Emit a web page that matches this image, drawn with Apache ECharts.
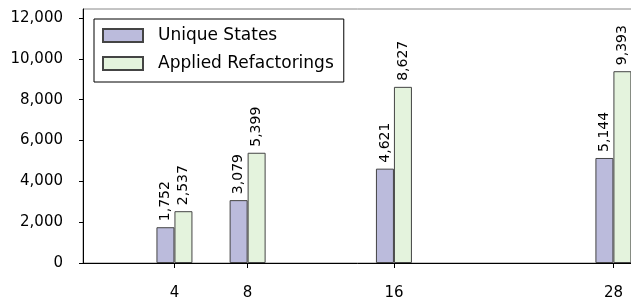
<!DOCTYPE html>
<html>
<head>
<meta charset="utf-8">
<script src="https://cdn.jsdelivr.net/npm/echarts@6/dist/echarts.min.js"></script>
<style>
html,body{margin:0;padding:0;background:#fff;}
#chart{width:631px;height:300px;}
</style>
</head>
<body>
<div id="chart"></div>
<script>
var threads = [4, 8, 16, 28];
var uniqueStates = [1752, 3079, 4621, 5144];
var appliedRefactorings = [2537, 5399, 8627, 9393];
var yTicks = [0, 2000, 4000, 6000, 8000, 10000, 12000];
var xTicks = [4, 8, 16, 28];
var seriesNames = ['Unique States', 'Applied Refactorings'];

var FONT = '"DejaVu Sans", sans-serif';
function fmt(v){ return Number(v).toLocaleString('en-US'); }

var chart = echarts.init(document.getElementById('chart'), null, {renderer:'canvas'});
chart.setOption({
  animation: false,
  backgroundColor: '#fff',
  grid: {left: 83, top: 9, width: 567, height: 254, containLabel: false, outerBoundsMode: 'none',
    show: true, borderColor: '#888', borderWidth: 1, backgroundColor: 'transparent'},
  legend: {
    orient: 'vertical', left: 94, top: 19,
    data: seriesNames,
    icon: 'rect', itemWidth: 40, itemHeight: 13, itemGap: 11,
    padding: [8, 10, 10, 8],
    borderColor: '#000', borderWidth: 1, backgroundColor: '#fff',
    textStyle: {fontFamily: FONT, fontSize: 17, color: '#000', padding: [0,0,0,10]}
  },
  xAxis: {
    type: 'value', min: -1, max: 30,
    splitLine: {show: false},
    axisLine: {onZero: false, lineStyle: {color: '#000', width: 1}},
    axisTick: {show: true, length: 5, lineStyle: {color: '#000'}, customValues: xTicks},
    axisLabel: {customValues: xTicks, margin: 23, fontFamily: FONT, fontSize: 15, color: '#000'}
  },
  yAxis: {
    type: 'value', min: 0, max: 12440,
    splitLine: {show: false},
    axisLine: {show: true, onZero: false, lineStyle: {color: '#000', width: 1}},
    axisTick: {show: true, length: 4, lineStyle: {color: '#000'}, customValues: yTicks},
    axisLabel: {customValues: yTicks, margin: 20, fontFamily: FONT, fontSize: 15, color: '#000', formatter: fmt}
  },
  series: [
    {
      name: seriesNames[0], type: 'bar', barWidth: 18, barGap: 0,
      data: threads.map(function(t,i){ return [t, uniqueStates[i]]; }),
      itemStyle: {color: '#bbbbdc', borderColor: '#444', borderWidth: 1},
      label: {show: true, position: 'top', rotate: 90, align: 'left', verticalAlign: 'middle', distance: 6,
        fontFamily: FONT, fontSize: 14, color: '#000', formatter: function(p){ return fmt(p.value[1]); }}
    },
    {
      name: seriesNames[1], type: 'bar', barWidth: 18, barGap: 0,
      data: threads.map(function(t,i){ return [t, appliedRefactorings[i]]; }),
      itemStyle: {color: '#e4f3dd', borderColor: '#444', borderWidth: 1},
      label: {show: true, position: 'top', rotate: 90, align: 'left', verticalAlign: 'middle', distance: 6,
        fontFamily: FONT, fontSize: 14, color: '#000', formatter: function(p){ return fmt(p.value[1]); }}
    }
  ]
});
</script>
</body>
</html>
